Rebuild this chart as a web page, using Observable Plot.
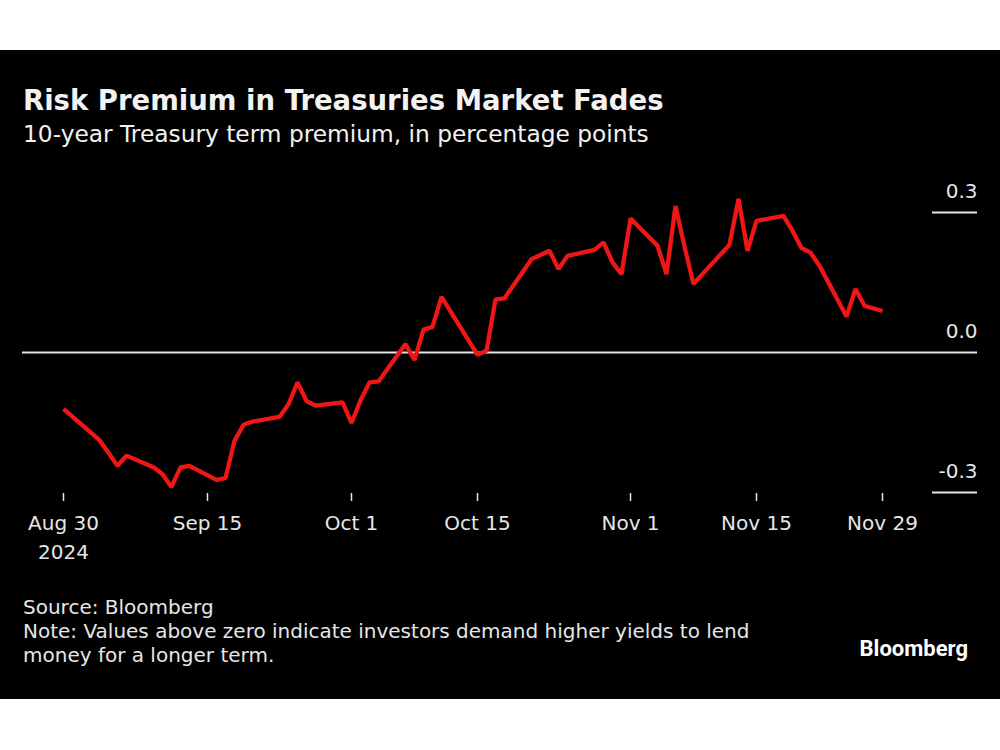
<!DOCTYPE html>
<html>
<head>
<meta charset="utf-8">
<script src="https://cdn.jsdelivr.net/npm/d3@7"></script>
<script src="https://cdn.jsdelivr.net/npm/@observablehq/plot@0.6"></script>
<style>
  html, body { margin: 0; padding: 0; background: #ffffff; }
  body { width: 1000px; height: 750px; position: relative; overflow: hidden; font-family: "DejaVu Sans", sans-serif; }
  #panel { position: absolute; left: 0; top: 50px; width: 1000px; height: 649px; background: #000000; }
  .t { position: absolute; color: #f2f2f2; white-space: nowrap; }
  #title { left: 23px; top: 87px; font-size: 27.5px; line-height: 27px; font-weight: bold; }
  #subtitle { left: 23px; top: 122px; font-size: 23.3px; line-height: 23px; }
  #notes { left: 23px; top: 595px; font-size: 20px; line-height: 24px; color: #e6e6e6; }
  #logo { right: 32px; top: 636px; font-family: Roboto, "DejaVu Sans", sans-serif; font-weight: 700; font-size: 22px; line-height: 26px; color: #ffffff; }
  #chart { position: absolute; left: 0; top: 150px; }
</style>
</head>
<body>
<div id="panel"></div>
<div class="t" id="title">Risk Premium in Treasuries Market Fades</div>
<div class="t" id="subtitle">10-year Treasury term premium, in percentage points</div>
<div id="chart"></div>
<div class="t" id="notes">Source: Bloomberg<br>Note: Values above zero indicate investors demand higher yields to lend<br>money for a longer term.</div>
<div class="t" id="logo">Bloomberg</div>
<script>
const dates = [
  "2024-08-30","2024-09-03","2024-09-04","2024-09-05","2024-09-06",
  "2024-09-09","2024-09-10","2024-09-11","2024-09-12","2024-09-13",
  "2024-09-16","2024-09-17","2024-09-18","2024-09-19","2024-09-20",
  "2024-09-23","2024-09-24","2024-09-25","2024-09-26","2024-09-27",
  "2024-09-30","2024-10-01","2024-10-02","2024-10-03","2024-10-04",
  "2024-10-07","2024-10-08","2024-10-09","2024-10-10","2024-10-11",
  "2024-10-15","2024-10-16","2024-10-17","2024-10-18",
  "2024-10-21","2024-10-22","2024-10-23","2024-10-24","2024-10-25",
  "2024-10-28","2024-10-29","2024-10-30","2024-10-31","2024-11-01",
  "2024-11-04","2024-11-05","2024-11-06","2024-11-07","2024-11-08",
  "2024-11-12","2024-11-13","2024-11-14","2024-11-15",
  "2024-11-18","2024-11-19","2024-11-20","2024-11-21","2024-11-22",
  "2024-11-25","2024-11-26","2024-11-27","2024-11-29"
];
const termPremium = [
  -0.121, -0.188, -0.215, -0.243, -0.221,
  -0.246, -0.261, -0.288, -0.246, -0.243,
  -0.273, -0.269, -0.189, -0.155, -0.148,
  -0.138, -0.111, -0.064, -0.104, -0.114,
  -0.107, -0.151, -0.103, -0.064, -0.062,
   0.018, -0.016,  0.049,  0.055,  0.119,
  -0.005,  0.004,  0.114,  0.116,
   0.200,  0.209,  0.218,  0.179,  0.207,
   0.220,  0.236,  0.193,  0.168,  0.287,
   0.229,  0.168,  0.314,  0.227,  0.147,
   0.231,  0.329,  0.218,  0.282,
   0.293,  0.261,  0.224,  0.214,  0.186,
   0.077,  0.136,  0.100,  0.089
];
const xTickDates = ["2024-08-30","2024-09-15","2024-10-01","2024-10-15","2024-11-01","2024-11-15","2024-11-29"];
const xTickLabels = ["Aug 30\n2024","Sep 15","Oct 1","Oct 15","Nov 1","Nov 15","Nov 29"];
const yTickValues = [0.3, 0.0, -0.3];
const yTickLabels = ["0.3", "0.0", "-0.3"];

const parse = d3.utcParse("%Y-%m-%d");
const data = dates.map((d, i) => ({date: parse(d), value: termPremium[i]}));
const xTicks = xTickDates.map(parse);
const labelOf = new Map(xTicks.map((d, i) => [+d, xTickLabels[i]]));
const yLabelOf = new Map(yTickValues.map((v, i) => [v, yTickLabels[i]]));

const chart = Plot.plot({
  width: 1000,
  height: 430,
  marginLeft: 22,
  marginRight: 23,
  marginTop: 20,
  marginBottom: 87,
  style: {background: "transparent", color: "#e6e6e6", fontFamily: "DejaVu Sans, sans-serif", fontSize: "20px"},
  x: {type: "utc", domain: [xTicks[0], xTicks[xTicks.length - 1]], range: [63, 882]},
  y: {domain: [-0.3, 0.3], range: [342, 62]},
  marks: [
    Plot.ruleY([0], {stroke: "#e6e6e6", strokeWidth: 2}),
    Plot.ruleY(yTickValues.filter(v => v !== 0), {stroke: "#e6e6e6", strokeWidth: 2, insetLeft: 910}),
    Plot.text(yTickValues, {y: d => d, text: d => yLabelOf.get(d), frameAnchor: "right", textAnchor: "end", lineAnchor: "bottom", dy: -14.5, fill: "#e6e6e6", fontSize: 20}),
    Plot.axisX({ticks: xTicks, tickFormat: d => labelOf.get(+d), tickSize: 8, tickPadding: 8, lineHeight: 1.45, stroke: "#e6e6e6", strokeWidth: 1.5, fill: "#e6e6e6", label: null}),
    Plot.axisY({ticks: [], label: null}),
    Plot.line(data, {x: "date", y: "value", stroke: "#f01616", strokeWidth: 4.3, strokeLinejoin: "miter", strokeLinecap: "butt"})
  ]
});
document.getElementById("chart").appendChild(chart);
</script>
</body>
</html>
